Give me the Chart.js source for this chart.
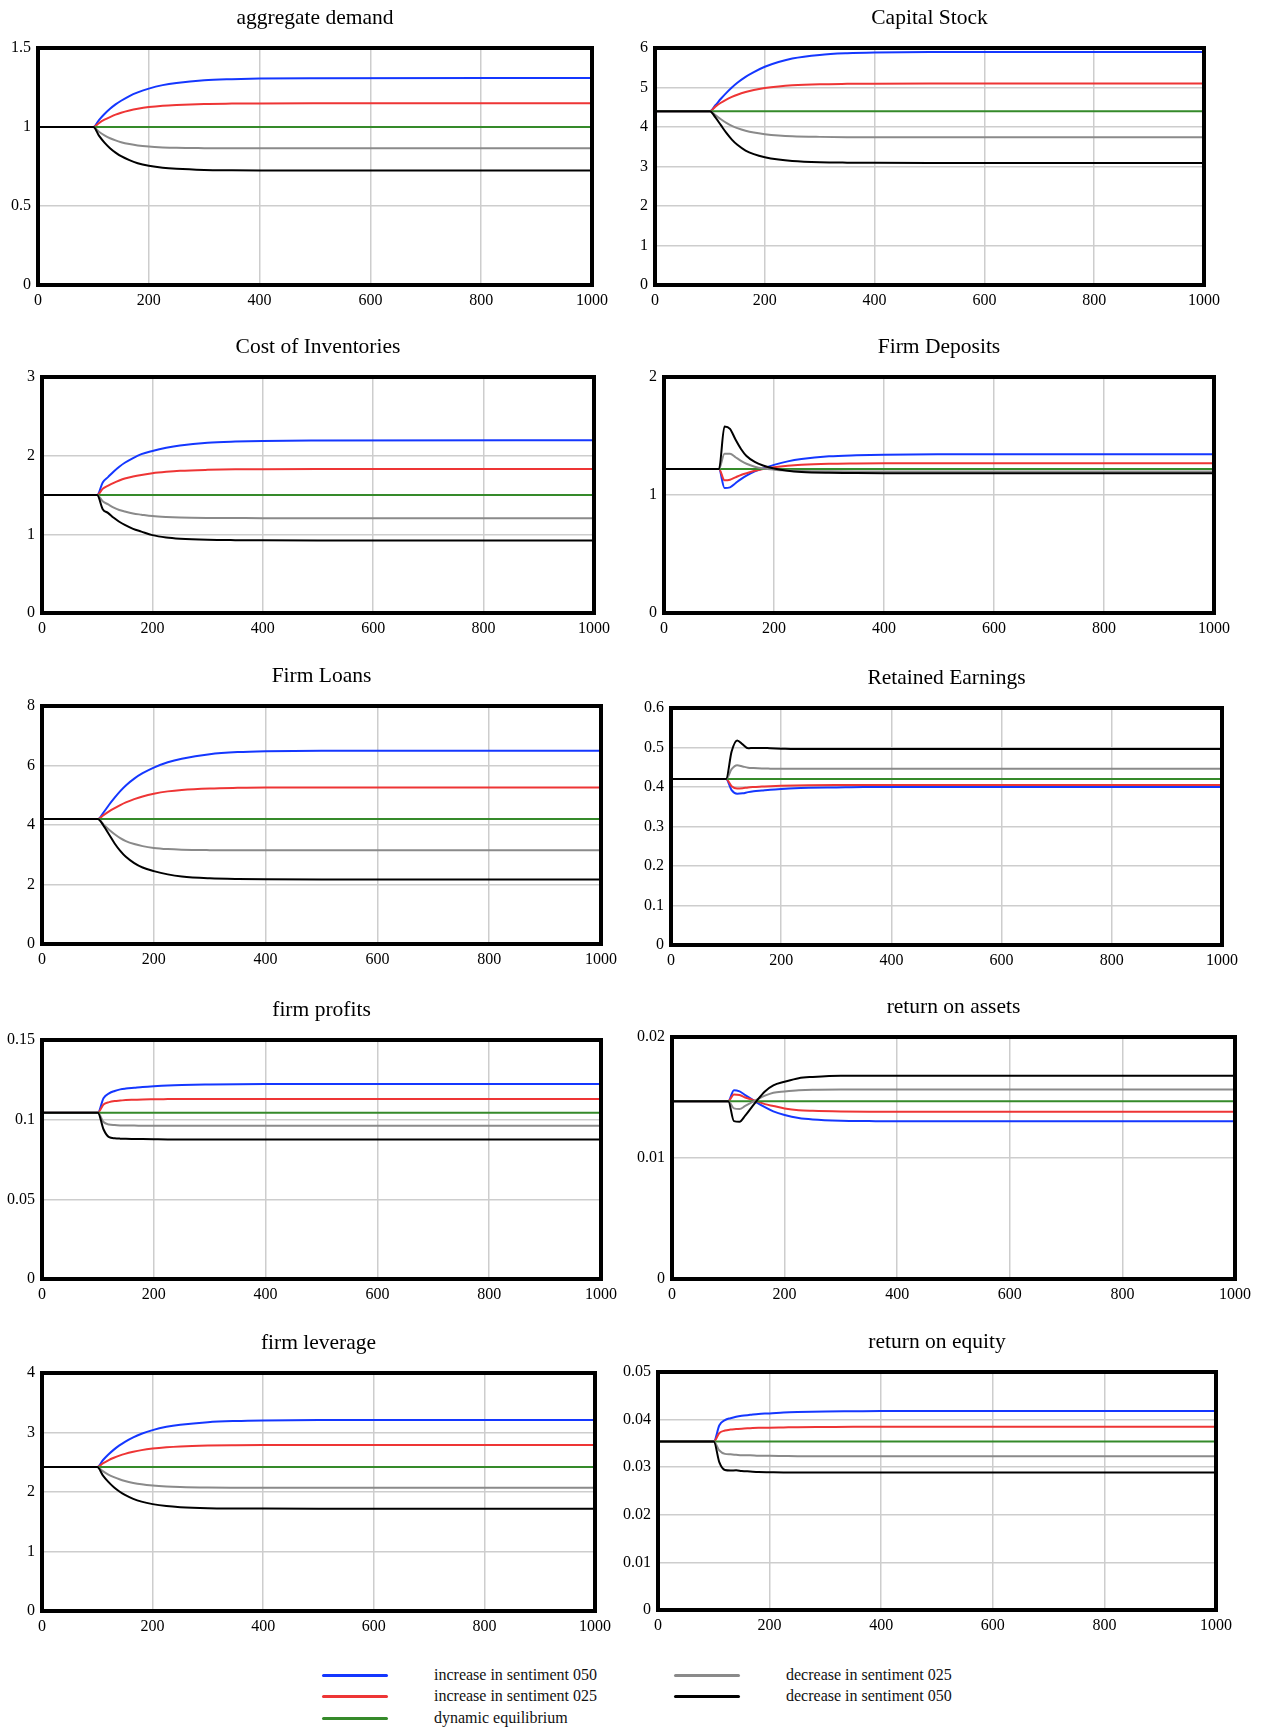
<!DOCTYPE html>
<html><head><meta charset="utf-8">
<script src="https://cdn.jsdelivr.net/npm/chart.js@4.4.1/dist/chart.umd.min.js"></script>
<style>
html,body{margin:0;padding:0;background:#fff;}
body{width:1261px;height:1730px;position:relative;overflow:hidden;font-family:'Liberation Serif','Times New Roman',serif;}
canvas{position:absolute;}
.lg{position:absolute;font-size:16px;line-height:20px;color:#111;white-space:nowrap;}
.sw{position:absolute;height:3px;border-radius:1.5px;width:66px;}
</style></head><body>
<script>
// ---------- DATA ----------
const TIME = [0,100,110,120,130,140,150,165,180,200,225,250,300,350,400,500,1000];
const SERIES_NAMES = ['increase in sentiment 050','increase in sentiment 025','dynamic equilibrium','decrease in sentiment 025','decrease in sentiment 050'];

// aggregate demand
const adUp50 = [1,1,1.044,1.082,1.115,1.143,1.166,1.196,1.219,1.243,1.265,1.279,1.296,1.303,1.307,1.309,1.31];
const adUp25 = [1,1,1.025,1.046,1.063,1.078,1.090,1.104,1.115,1.126,1.135,1.140,1.146,1.148,1.149,1.15,1.15];
const adEq   = [1,1,1,1,1,1,1,1,1,1,1,1,1,1,1,1,1];
const adDn25 = [1,1,0.970,0.947,0.929,0.915,0.904,0.892,0.883,0.876,0.871,0.868,0.866,0.865,0.865,0.865,0.865];
const adDn50 = [1,1,0.945,0.901,0.866,0.838,0.815,0.790,0.771,0.755,0.742,0.735,0.728,0.726,0.725,0.725,0.725];
// Capital Stock
const ksUp50 = [4.4,4.4,4.55,4.715,4.865,5.0,5.12,5.27,5.39,5.525,5.645,5.735,5.825,5.866,5.885,5.897,5.9];
const ksUp25 = [4.4,4.4,4.516,4.614,4.694,4.762,4.818,4.885,4.937,4.987,5.028,5.055,5.082,5.092,5.097,5.1,5.1];
const ksEq   = [4.4,4.4,4.4,4.4,4.4,4.4,4.4,4.4,4.4,4.4,4.4,4.4,4.4,4.4,4.4,4.4,4.4];
const ksDn25 = [4.4,4.4,4.301,4.195,4.103,4.030,3.971,3.905,3.859,3.819,3.786,3.766,3.750,3.743,3.741,3.74,3.74];
const ksDn50 = [4.4,4.4,4.243,4.046,3.850,3.680,3.549,3.404,3.313,3.234,3.175,3.140,3.108,3.097,3.093,3.09,3.09];
// Cost of Inventories
const ciUp50 = [1.5,1.5,1.66,1.73,1.80,1.86,1.91,1.97,2.02,2.06,2.10,2.13,2.165,2.18,2.188,2.192,2.195];
const ciUp25 = [1.5,1.5,1.58,1.62,1.655,1.685,1.71,1.735,1.755,1.777,1.795,1.808,1.82,1.826,1.828,1.83,1.83];
const ciEq   = [1.5,1.5,1.5,1.5,1.5,1.5,1.5,1.5,1.5,1.5,1.5,1.5,1.5,1.5,1.5,1.5,1.5];
const ciDn25 = [1.5,1.5,1.42,1.38,1.34,1.31,1.29,1.265,1.25,1.232,1.22,1.213,1.208,1.207,1.206,1.206,1.206];
const ciDn50 = [1.5,1.5,1.32,1.27,1.21,1.16,1.12,1.07,1.035,0.99,0.96,0.945,0.931,0.926,0.924,0.923,0.923];
// Firm Deposits
const fdUp50 = [1.22,1.22,1.06,1.065,1.10,1.135,1.165,1.20,1.225,1.255,1.285,1.305,1.328,1.337,1.342,1.345,1.345];
const fdUp25 = [1.22,1.22,1.125,1.13,1.15,1.17,1.185,1.205,1.22,1.235,1.248,1.256,1.264,1.267,1.269,1.27,1.27];
const fdEq   = [1.22,1.22,1.22,1.22,1.22,1.22,1.22,1.22,1.22,1.22,1.22,1.22,1.22,1.22,1.22,1.22,1.22];
const fdDn25 = [1.22,1.22,1.35,1.35,1.32,1.29,1.265,1.24,1.225,1.215,1.208,1.204,1.201,1.2,1.2,1.2,1.2];
const fdDn50 = [1.22,1.22,1.58,1.56,1.47,1.39,1.33,1.28,1.25,1.225,1.205,1.195,1.188,1.186,1.185,1.185,1.185];
// Firm Loans
const flUp50 = [4.2,4.2,4.42,4.68,4.92,5.14,5.33,5.56,5.74,5.93,6.11,6.23,6.38,6.45,6.48,6.5,6.5];
const flUp25 = [4.2,4.2,4.33,4.46,4.57,4.67,4.76,4.87,4.96,5.05,5.13,5.18,5.23,5.25,5.26,5.26,5.26];
const flEq   = [4.2,4.2,4.2,4.2,4.2,4.2,4.2,4.2,4.2,4.2,4.2,4.2,4.2,4.2,4.2,4.2,4.2];
const flDn25 = [4.2,4.2,4.02,3.84,3.69,3.56,3.46,3.36,3.29,3.23,3.19,3.17,3.155,3.15,3.15,3.15,3.15];
const flDn50 = [4.2,4.2,3.98,3.68,3.38,3.13,2.93,2.72,2.57,2.45,2.34,2.27,2.21,2.185,2.175,2.17,2.17];
// Retained Earnings
const reUp50 = [0.42,0.42,0.392,0.383,0.384,0.387,0.389,0.391,0.393,0.395,0.397,0.398,0.399,0.4,0.4,0.4,0.4];
const reUp25 = [0.42,0.42,0.402,0.396,0.397,0.399,0.4,0.401,0.402,0.403,0.404,0.4045,0.405,0.405,0.405,0.405,0.405];
const reEq   = [0.42,0.42,0.42,0.42,0.42,0.42,0.42,0.42,0.42,0.42,0.42,0.42,0.42,0.42,0.42,0.42,0.42];
const reDn25 = [0.42,0.42,0.445,0.455,0.452,0.449,0.448,0.447,0.4465,0.446,0.446,0.446,0.446,0.446,0.446,0.446,0.446];
const reDn50 = [0.42,0.42,0.49,0.518,0.508,0.498,0.499,0.499,0.498,0.497,0.496,0.496,0.496,0.496,0.496,0.496,0.496];
// firm profits
const fpUp50 = [0.1044,0.1044,0.1135,0.1165,0.118,0.119,0.1195,0.12,0.1205,0.121,0.1215,0.1218,0.1221,0.1223,0.1224,0.1224,0.1224];
const fpUp25 = [0.1044,0.1044,0.1095,0.111,0.1117,0.112,0.1123,0.1125,0.1127,0.1128,0.1129,0.113,0.113,0.113,0.113,0.113,0.113];
const fpEq   = [0.1044,0.1044,0.1044,0.1044,0.1044,0.1044,0.1044,0.1044,0.1044,0.1044,0.1044,0.1044,0.1044,0.1044,0.1044,0.1044,0.1044];
const fpDn25 = [0.1044,0.1044,0.0985,0.097,0.0966,0.0964,0.0963,0.0963,0.0962,0.0962,0.0962,0.0962,0.0962,0.0962,0.0962,0.0962,0.0962];
const fpDn50 = [0.1044,0.1044,0.094,0.089,0.0883,0.0881,0.088,0.0879,0.0878,0.0877,0.0876,0.0876,0.0875,0.0875,0.0875,0.0875,0.0875];
// return on assets
const roaUp50 = [0.0147,0.0147,0.0156,0.0155,0.0152,0.0149,0.0146,0.0142,0.01385,0.01355,0.0133,0.01318,0.01308,0.01305,0.01303,0.01303,0.01303];
const roaUp25 = [0.0147,0.0147,0.01525,0.0152,0.015,0.01485,0.0147,0.01445,0.0143,0.0141,0.01395,0.0139,0.01385,0.01383,0.01383,0.01383,0.01383];
const roaEq   = [0.0147,0.0147,0.0147,0.0147,0.0147,0.0147,0.0147,0.0147,0.0147,0.0147,0.0147,0.0147,0.0147,0.0147,0.0147,0.0147,0.0147];
const roaDn25 = [0.0147,0.0147,0.0141,0.01405,0.0143,0.01455,0.0148,0.01515,0.0154,0.0155,0.0156,0.01565,0.01567,0.01567,0.01567,0.01567,0.01567];
const roaDn50 = [0.0147,0.0147,0.01305,0.013,0.0135,0.0141,0.0147,0.0155,0.016,0.0163,0.0166,0.0167,0.0168,0.0168,0.0168,0.0168,0.0168];
// firm leverage
const lvUp50 = [2.42,2.42,2.533,2.629,2.712,2.783,2.844,2.919,2.979,3.040,3.095,3.131,3.174,3.193,3.202,3.208,3.21];
const lvUp25 = [2.42,2.42,2.481,2.533,2.575,2.611,2.641,2.676,2.704,2.730,2.752,2.766,2.780,2.786,2.789,2.79,2.79];
const lvEq   = [2.42,2.42,2.42,2.42,2.42,2.42,2.42,2.42,2.42,2.42,2.42,2.42,2.42,2.42,2.42,2.42,2.42];
const lvDn25 = [2.42,2.42,2.350,2.294,2.250,2.214,2.185,2.153,2.129,2.108,2.092,2.083,2.074,2.071,2.07,2.07,2.07];
const lvDn50 = [2.42,2.42,2.281,2.169,2.079,2.008,1.950,1.885,1.838,1.796,1.763,1.745,1.728,1.723,1.721,1.72,1.72];
// return on equity
const roeUp50 = [0.0354,0.0354,0.0388,0.0399,0.0403,0.0406,0.0408,0.041,0.0412,0.0413,0.0415,0.0416,0.0417,0.04175,0.0418,0.0418,0.0418];
const roeUp25 = [0.0354,0.0354,0.0372,0.0377,0.0379,0.038,0.0381,0.0382,0.0383,0.0383,0.03835,0.0384,0.03845,0.0385,0.0385,0.0385,0.0385];
const roeEq   = [0.0354,0.0354,0.0354,0.0354,0.0354,0.0354,0.0354,0.0354,0.0354,0.0354,0.0354,0.0354,0.0354,0.0354,0.0354,0.0354,0.0354];
const roeDn25 = [0.0354,0.0354,0.0335,0.0328,0.0327,0.0326,0.0325,0.0325,0.0324,0.0324,0.03235,0.0323,0.0323,0.0323,0.0323,0.0323,0.0323];
const roeDn50 = [0.0354,0.0354,0.031,0.0294,0.0293,0.02935,0.0292,0.0291,0.029,0.02895,0.0289,0.0289,0.0289,0.0289,0.0289,0.0289,0.0289];

const TITLES = ['aggregate demand','Capital Stock','Cost of Inventories','Firm Deposits','Firm Loans','Retained Earnings','firm profits','return on assets','firm leverage','return on equity'];
const Y_MAX  = [1.5, 6, 3, 2, 8, 0.6, 0.15, 0.02, 4, 0.05];
const Y_STEP = [0.5, 1, 1, 1, 2, 0.1, 0.05, 0.01, 1, 0.01];
const X_MAX = 1000, X_STEP = 200;
const CHART_SERIES = [
  [adUp50,adUp25,adEq,adDn25,adDn50],
  [ksUp50,ksUp25,ksEq,ksDn25,ksDn50],
  [ciUp50,ciUp25,ciEq,ciDn25,ciDn50],
  [fdUp50,fdUp25,fdEq,fdDn25,fdDn50],
  [flUp50,flUp25,flEq,flDn25,flDn50],
  [reUp50,reUp25,reEq,reDn25,reDn50],
  [fpUp50,fpUp25,fpEq,fpDn25,fpDn50],
  [roaUp50,roaUp25,roaEq,roaDn25,roaDn50],
  [lvUp50,lvUp25,lvEq,lvDn25,lvDn50],
  [roeUp50,roeUp25,roeEq,roeDn25,roeDn50]
];

// ---------- LAYOUT / STYLE ----------
// plot box edges [left, right, top, bottom] in page pixels
const BOXES = [
  [38,592,48,285],[655,1204,48,285],
  [42,594,377,613],[664,1214,377,613],
  [42,601,706,944],[671,1222,708,945],
  [42,601,1040,1279],[672,1235,1037,1279],
  [42,595,1373,1611],[658,1216,1372,1610]
];
const COLORS = ['#1437ff','#ee3535','#358a2a','#8a8a8a','#000000'];
const DRAW_ORDER = [4,3,2,1,0];
const FONT = "'Liberation Serif','Times New Roman',serif";
const PAD = 42, HEAD = 48, FOOT = 30;
const TITLE_SIZE = 21.5, TICK_SIZE = 16;

Chart.defaults.font.family = FONT;
Chart.defaults.color = '#000';

const boxBorder = {
  id:'boxBorder',
  afterDatasetsDraw(chart){
    const {ctx, chartArea:a} = chart;
    ctx.save();
    ctx.strokeStyle = '#000';
    ctx.lineWidth = 4;
    ctx.strokeRect(a.left, a.top, a.right - a.left, a.bottom - a.top);
    ctx.restore();
  }
};

const fmt = v => String(parseFloat(Number(v).toFixed(6)));
const titleLine = TITLE_SIZE * 1.2;
const titleTop = 5.5;

BOXES.forEach((b, k) => {
  const [L,R,T,B] = b;
  const cv = document.createElement('canvas');
  const w = R - L + 2 * PAD, h = B - T + HEAD + FOOT;
  cv.width = w; cv.height = h;
  cv.style.left = (L - PAD) + 'px';
  cv.style.top = (T - HEAD) + 'px';
  cv.style.width = w + 'px'; cv.style.height = h + 'px';
  document.body.appendChild(cv);
  const datasets = CHART_SERIES[k].map((arr, i) => ({
    label: SERIES_NAMES[i],
    data: TIME.map((t, j) => ({x: t, y: arr[j]})),
    borderColor: COLORS[i],
    borderWidth: 2,
    pointRadius: 0,
    fill: false,
    cubicInterpolationMode: 'monotone',
    order: DRAW_ORDER[i],
    yAxisID: 'y'
  }));
  new Chart(cv, {
    type: 'line',
    data: { datasets },
    plugins: [boxBorder],
    options: {
      responsive: false, animation: false, events: [],
      layout: { padding: 0 },
      plugins: {
        legend: { display: false }, tooltip: { enabled: false },
        title: { display: true, text: TITLES[k], color: '#000',
          font: { size: TITLE_SIZE, family: FONT, weight: 'normal', lineHeight: 1.2 },
          padding: { top: titleTop, bottom: HEAD - titleTop - titleLine } }
      },
      scales: {
        x: { type: 'linear', min: 0, max: X_MAX,
          ticks: { stepSize: X_STEP, padding: 6, color: '#000', font: { size: TICK_SIZE }, maxRotation: 0, autoSkip: false, callback: fmt },
          grid: { color: '#cdcdcd', lineWidth: 1.5, drawTicks: false },
          border: { display: false },
          afterFit: s => { s.height = FOOT; } },
        y: { type: 'linear', position: 'left', min: 0, max: Y_MAX[k],
          ticks: { stepSize: Y_STEP[k], padding: 7, color: '#000', font: { size: TICK_SIZE }, autoSkip: false, callback: fmt },
          grid: { color: '#cdcdcd', lineWidth: 1.5, drawTicks: false },
          border: { display: false },
          afterFit: s => { s.width = PAD; } },
        yRightSpace: { type: 'linear', position: 'right', display: true, min: 0, max: 1,
          ticks: { display: false }, grid: { display: false, drawTicks: false }, border: { display: false },
          afterFit: s => { s.width = PAD; } }
      }
    }
  });
});

// legend
const LEGEND_POS = [[322,434,1675],[322,434,1696],[322,434,1718],[674,786,1675],[674,786,1696]];
SERIES_NAMES.forEach((name, i) => {
  const [lx, tx, cy] = LEGEND_POS[i];
  const sw = document.createElement('div');
  sw.className = 'sw';
  sw.style.left = lx + 'px'; sw.style.top = (cy - 1.5) + 'px';
  sw.style.background = COLORS[i];
  document.body.appendChild(sw);
  const t = document.createElement('div');
  t.className = 'lg';
  t.style.left = tx + 'px'; t.style.top = (cy - 10) + 'px';
  t.textContent = name;
  document.body.appendChild(t);
});
</script>
</body></html>
